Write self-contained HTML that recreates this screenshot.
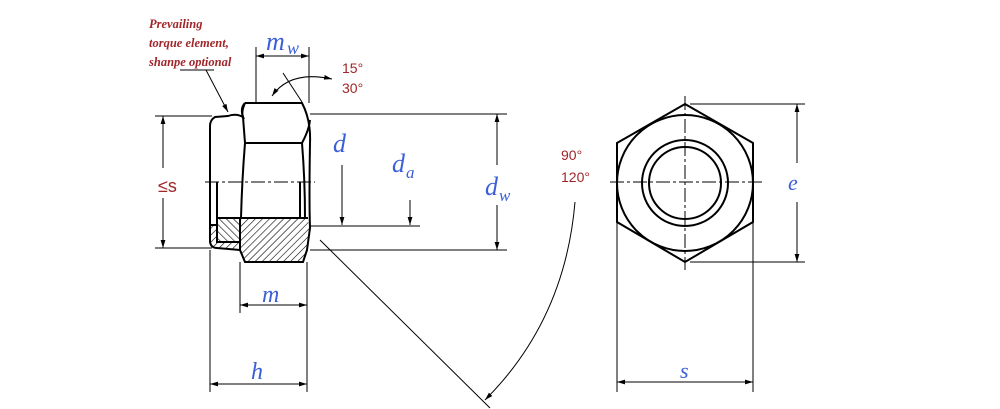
<!DOCTYPE html>
<html><head><style>
html,body{margin:0;padding:0;background:#fff;}
svg{display:block;}
.b{font-family:"Liberation Serif",serif;font-style:italic;fill:#3a5fd8;}
.r{font-family:"Liberation Sans",sans-serif;fill:#a0262a;}
.lb{font-family:"Liberation Serif",serif;font-style:italic;font-weight:bold;font-size:12.5px;fill:#a0262a;}
</style></head><body>
<svg width="1000" height="409" viewBox="0 0 1000 409" xmlns="http://www.w3.org/2000/svg">
<defs>
<pattern id="h1" patternUnits="userSpaceOnUse" width="5" height="5" patternTransform="rotate(45)">
<line x1="0" y1="0" x2="0" y2="5" stroke="#000" stroke-width="1.2"/></pattern>
<pattern id="h2" patternUnits="userSpaceOnUse" width="5" height="5" patternTransform="rotate(-45)">
<line x1="0" y1="0" x2="0" y2="5" stroke="#000" stroke-width="1.2"/></pattern>
<marker id="a" viewBox="0 0 10 6" refX="10" refY="3" markerWidth="8" markerHeight="5" orient="auto-start-reverse"><path d="M0,0 L10,3 L0,6 Z" fill="#000"/></marker>
</defs>
<rect width="1000" height="409" fill="#fff"/>
<path d="M240,218 L307,218 L310,228 L307,250 L303,262 L245,262 L240,250 Z" fill="url(#h1)"/>
<path d="M210,225 L217,225 L217,242 L240,242 L240,250 L215,248 L210,242 Z" fill="url(#h1)"/>
<rect x="217" y="218" width="23" height="24" fill="url(#h2)"/>
<g fill="none" stroke="#000" stroke-width="2">
<path d="M245,103 L302,103 Q311,120 310,143 Q309,200 310,228 L307,250 L303,262 L245,262 L240,250 L240,218"/>
<path d="M245,103 Q241,112 243,117 Q236,113 228,116 L215,117 Q210,120 210,126 L210,242 Q211,248 217,248 L240,250"/>
<path d="M245,103 Q240,108 243,117 Q244,130 245,143 L302,143 Q309,130 310,120"/>
<path d="M245,143 Q242,180 241,218 L308,218"/>
<path d="M302,143 Q305,180 305,218"/>
<line x1="217" y1="182" x2="217" y2="242"/>
<line x1="300" y1="182" x2="300" y2="218"/>
<rect x="217" y="218" width="23" height="24"/>
<line x1="210" y1="225" x2="217" y2="225"/>
<polygon points="685,104 753,143 753,222 685,262 617,222 617,143"/>
<circle cx="685" cy="183" r="68"/>
<circle cx="685" cy="183" r="43"/>
<circle cx="685" cy="183" r="36"/>
</g>
<g fill="none" stroke="#000" stroke-width="1">
<line x1="205" y1="182" x2="315" y2="182" stroke-dasharray="14,3,3,3"/>
<line x1="610" y1="182" x2="762" y2="182" stroke-dasharray="14,3,3,3"/>
<line x1="685" y1="96" x2="685" y2="270" stroke-dasharray="14,3,3,3"/>
<line x1="310" y1="114" x2="507" y2="114"/>
<line x1="310" y1="250" x2="507" y2="250"/>
<line x1="155" y1="116" x2="212" y2="116"/>
<line x1="155" y1="248" x2="212" y2="248"/>
<line x1="310" y1="226" x2="420" y2="226"/>
<line x1="256" y1="47" x2="256" y2="103"/>
<line x1="309" y1="47" x2="309" y2="103"/>
<line x1="210" y1="250" x2="210" y2="392"/>
<line x1="307" y1="262" x2="307" y2="392"/>
<line x1="240" y1="262" x2="240" y2="313"/>
<line x1="690" y1="104" x2="805" y2="104"/>
<line x1="690" y1="262" x2="805" y2="262"/>
<line x1="617" y1="222" x2="617" y2="392"/>
<line x1="753" y1="222" x2="753" y2="392"/>
<line x1="256" y1="56" x2="309" y2="56" marker-start="url(#a)" marker-end="url(#a)"/>
<line x1="163" y1="116" x2="163" y2="168" marker-start="url(#a)"/>
<line x1="163" y1="198" x2="163" y2="248" marker-end="url(#a)"/>
<line x1="497" y1="114" x2="497" y2="165" marker-start="url(#a)"/>
<line x1="497" y1="205" x2="497" y2="250" marker-end="url(#a)"/>
<line x1="342" y1="165" x2="342" y2="225" marker-end="url(#a)"/>
<line x1="410" y1="200" x2="410" y2="225" marker-end="url(#a)"/>
<line x1="240" y1="305" x2="307" y2="305" marker-start="url(#a)" marker-end="url(#a)"/>
<line x1="210" y1="384" x2="307" y2="384" marker-start="url(#a)" marker-end="url(#a)"/>
<line x1="797" y1="104" x2="797" y2="163" marker-start="url(#a)"/>
<line x1="797" y1="202" x2="797" y2="262" marker-end="url(#a)"/>
<line x1="617" y1="382" x2="753" y2="382" marker-start="url(#a)" marker-end="url(#a)"/>
<line x1="180" y1="70" x2="214" y2="70"/>
<line x1="206" y1="70" x2="228" y2="112" marker-end="url(#a)"/>
<line x1="283" y1="73" x2="302" y2="102"/>
<path d="M272,96 Q290,70 332,79" marker-start="url(#a)" marker-end="url(#a)"/>
<line x1="320" y1="240" x2="490" y2="408"/>
<path d="M485,400 Q565,320 575,202" marker-start="url(#a)"/>
</g>
<text x="149" y="28" class="lb">Prevailing</text>
<text x="149" y="47" class="lb">torque element,</text>
<text x="149" y="66" class="lb">shanpe optional</text>
<text x="266" y="50" class="b" font-size="26">m</text><text x="287" y="54" class="b" font-size="18">w</text>
<text x="342" y="73" class="r" font-size="14">15°</text>
<text x="342" y="93" class="r" font-size="14">30°</text>
<text x="333" y="152" class="b" font-size="26">d</text>
<text x="392" y="172" class="b" font-size="26">d</text><text x="406" y="178" class="b" font-size="17">a</text>
<text x="485" y="195" class="b" font-size="26">d</text><text x="499" y="201" class="b" font-size="17">w</text>
<text x="158" y="192" class="r" font-size="18">≤s</text>
<text x="561" y="160" class="r" font-size="14">90°</text>
<text x="561" y="182" class="r" font-size="14">120°</text>
<text x="788" y="190" class="b" font-size="22">e</text>
<text x="262" y="302" class="b" font-size="24">m</text>
<text x="251" y="379" class="b" font-size="24">h</text>
<text x="680" y="378" class="b" font-size="22">s</text>
</svg>
</body></html>
